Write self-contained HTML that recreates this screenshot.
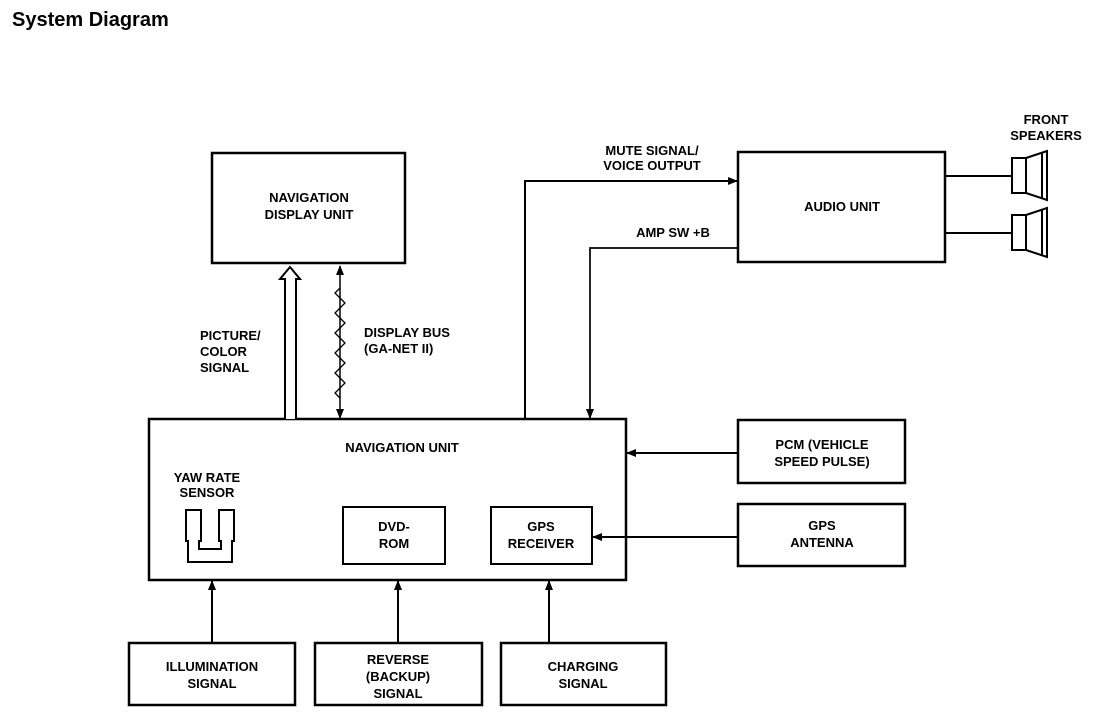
<!DOCTYPE html>
<html><head><style>
body{margin:0;background:#fff;width:1120px;height:720px;overflow:hidden}
svg text{font-family:"Liberation Sans",Arial,sans-serif;font-weight:bold;font-size:13px;fill:#000}
</style></head><body>
<svg width="1120" height="720" viewBox="0 0 1120 720" xmlns="http://www.w3.org/2000/svg">
<defs>
<marker id="ah" markerWidth="10" markerHeight="10" refX="9" refY="5" orient="auto" markerUnits="userSpaceOnUse"><path d="M0,1 L10,5 L0,9 Z" fill="#000"/></marker>
<marker id="ahs" markerWidth="10" markerHeight="10" refX="1" refY="5" orient="auto" markerUnits="userSpaceOnUse"><path d="M10,1 L0,5 L10,9 Z" fill="#000"/></marker>
</defs>
<text x="12" y="26" style="font-size:20px">System Diagram</text>
<g fill="none" stroke="#000" stroke-width="2.5">
<rect x="212" y="153" width="193" height="110"/>
<rect x="149" y="419" width="477" height="161"/>
<rect x="738" y="152" width="207" height="110"/>
<rect x="738" y="420" width="167" height="63"/>
<rect x="738" y="504" width="167" height="62"/>
<rect x="343" y="507" width="102" height="57" stroke-width="2"/>
<rect x="491" y="507" width="101" height="57" stroke-width="2"/>
<rect x="129" y="643" width="166" height="62"/>
<rect x="315" y="643" width="167" height="62"/>
<rect x="501" y="643" width="165" height="62"/>
</g>
<g fill="none" stroke="#000" stroke-width="2">
<!-- hollow arrow -->
<path d="M285,419 V279 H280 L290,267 L300,279 H296 V419" fill="#fff"/>
<!-- zigzag -->
<line x1="340" y1="266" x2="340" y2="418" stroke-width="1.5" marker-start="url(#ahs)" marker-end="url(#ah)"/>
<path d="M340,288 l-5,5 l5,5 l5,5 l-5,5 l-5,5 l5,5 l5,5 l-5,5 l-5,5 l5,5 l5,5 l-5,5 l-5,5 l5,5 l5,5 l-5,5 l-5,5 l5,5 l5,5 l-5,5 l-5,5 l5,5" stroke-width="1.3"/>
<polyline points="525,419 525,181 737,181" marker-end="url(#ah)"/>
<polyline points="738,248 590,248 590,418" stroke-width="1.7" marker-end="url(#ah)"/>
<line x1="738" y1="453" x2="627" y2="453" marker-end="url(#ah)"/>
<line x1="738" y1="537" x2="593" y2="537" marker-end="url(#ah)"/>
<line x1="212" y1="643" x2="212" y2="581" marker-end="url(#ah)"/>
<line x1="398" y1="643" x2="398" y2="581" marker-end="url(#ah)"/>
<line x1="549" y1="643" x2="549" y2="581" marker-end="url(#ah)"/>
<line x1="945" y1="176" x2="1012" y2="176"/>
<line x1="945" y1="233" x2="1012" y2="233"/>
<rect x="1012" y="158" width="14" height="35"/>
<path d="M1026,158 L1047,151 V200 L1026,193 Z"/>
<line x1="1042" y1="153" x2="1042" y2="198"/>
<rect x="1012" y="215" width="14" height="35"/>
<path d="M1026,215 L1047,208 V257 L1026,250 Z"/>
<line x1="1042" y1="210" x2="1042" y2="255"/>
<!-- yaw sensor -->
<path d="M186,510 H201 V541 H199 V549 H221 V541 H219 V510 H234 V541 H232 V562 H188 V541 H186 Z"/>
</g>
<g text-anchor="middle">
<text x="309" y="202">NAVIGATION</text><text x="309" y="219">DISPLAY UNIT</text>
<text x="842" y="211">AUDIO UNIT</text>
<text x="1046" y="124">FRONT</text><text x="1046" y="140">SPEAKERS</text>
<text x="652" y="155">MUTE SIGNAL/</text><text x="652" y="170">VOICE OUTPUT</text>
<text x="673" y="237">AMP SW +B</text>
<text x="402" y="452">NAVIGATION UNIT</text>
<text x="207" y="482">YAW RATE</text><text x="207" y="497">SENSOR</text>
<text x="394" y="531">DVD-</text><text x="394" y="548">ROM</text>
<text x="541" y="531">GPS</text><text x="541" y="548">RECEIVER</text>
<text x="822" y="449">PCM (VEHICLE</text><text x="822" y="466">SPEED PULSE)</text>
<text x="822" y="530">GPS</text><text x="822" y="547">ANTENNA</text>
<text x="212" y="671">ILLUMINATION</text><text x="212" y="688">SIGNAL</text>
<text x="398" y="664">REVERSE</text><text x="398" y="681">(BACKUP)</text><text x="398" y="698">SIGNAL</text>
<text x="583" y="671">CHARGING</text><text x="583" y="688">SIGNAL</text>
</g>
<g>
<text x="200" y="340">PICTURE/</text><text x="200" y="356">COLOR</text><text x="200" y="372">SIGNAL</text>
<text x="364" y="337">DISPLAY BUS</text><text x="364" y="353">(GA-NET II)</text>
</g>
</svg>
</body></html>
